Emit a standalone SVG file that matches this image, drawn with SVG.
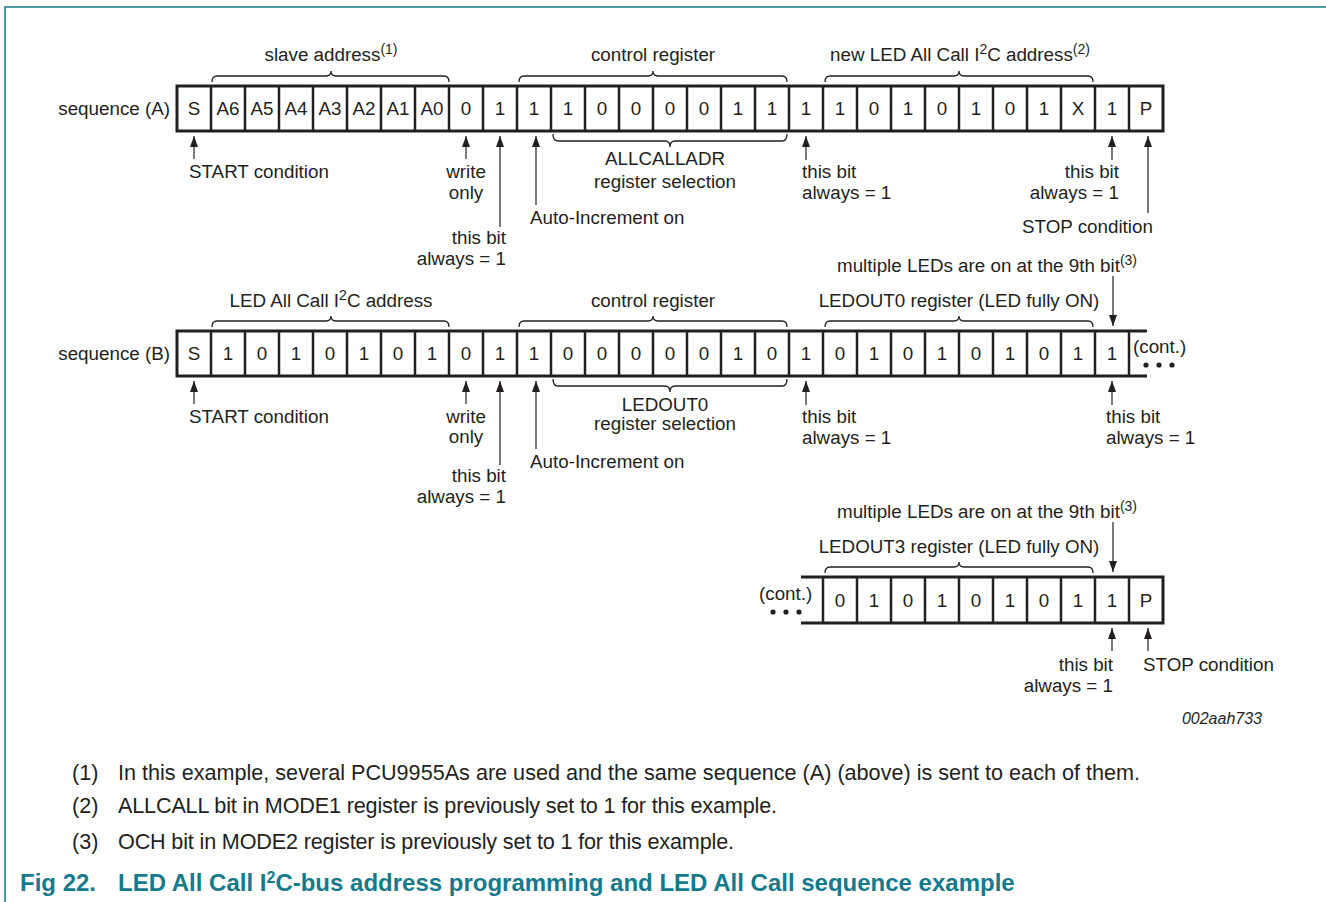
<svg xmlns="http://www.w3.org/2000/svg" width="1326" height="902" viewBox="0 0 1326 902">
<defs>
<style>
text{font-family:"Liberation Sans",Arial,sans-serif;font-size:18.8px;fill:#231f20}
.m{text-anchor:middle}
.e{text-anchor:end}
.sup{font-size:14px}
.fn{font-size:21.6px}
.title{font-size:24px;font-weight:bold;fill:#157a8c}
.id{font-size:16px;font-style:italic}
.box{fill:none;stroke:#231f20;stroke-width:3}
.div{stroke:#231f20;stroke-width:2.5}
.brace{fill:none;stroke:#231f20;stroke-width:1.3}
.arr{stroke:#231f20;stroke-width:1.2;fill:none;marker-end:url(#ah)}
.frame{stroke:#157a8c;stroke-width:1.5;fill:none}
</style>
<marker id="ah" markerUnits="userSpaceOnUse" markerWidth="11" markerHeight="8" refX="11" refY="4" orient="auto">
<path d="M0,0 L11,4 L0,8 z" fill="#231f20"/>
</marker>
</defs>
<rect width="1326" height="902" fill="#fff"/>
<path class="frame" d="M5,902 L5,7 L1326,7"/>

<g id="seqA">
<text class="e" x="170" y="114.5">sequence (A)</text>
<rect class="box" x="177" y="86" width="986" height="45"/>
<path class="div" d="M211,86V131M245,86V131M279,86V131M313,86V131M347,86V131M381,86V131M415,86V131M449,86V131M483,86V131M517,86V131M551,86V131M585,86V131M619,86V131M653,86V131M687,86V131M721,86V131M755,86V131M789,86V131M823,86V131M857,86V131M891,86V131M925,86V131M959,86V131M993,86V131M1027,86V131M1061,86V131M1095,86V131M1129,86V131"/>
<g class="m">
<text x="194" y="114.5">S</text><text x="228" y="114.5">A6</text><text x="262" y="114.5">A5</text><text x="296" y="114.5">A4</text><text x="330" y="114.5">A3</text><text x="364" y="114.5">A2</text><text x="398" y="114.5">A1</text><text x="432" y="114.5">A0</text><text x="466" y="114.5">0</text><text x="500" y="114.5">1</text><text x="534" y="114.5">1</text><text x="568" y="114.5">1</text><text x="602" y="114.5">0</text><text x="636" y="114.5">0</text><text x="670" y="114.5">0</text><text x="704" y="114.5">0</text><text x="738" y="114.5">1</text><text x="772" y="114.5">1</text><text x="806" y="114.5">1</text><text x="840" y="114.5">1</text><text x="874" y="114.5">0</text><text x="908" y="114.5">1</text><text x="942" y="114.5">0</text><text x="976" y="114.5">1</text><text x="1010" y="114.5">0</text><text x="1044" y="114.5">1</text><text x="1078" y="114.5">X</text><text x="1112" y="114.5">1</text><text x="1146" y="114.5">P</text>
</g>
<path class="brace" d="M212,82 Q212,76 217,76 L326,76 Q331,76 331,71 Q331,76 336,76 L444,76 Q449,76 449,82"/>
<path class="brace" d="M519,82 Q519,76 524,76 L648,76 Q653,76 653,71 Q653,76 658,76 L782,76 Q787,76 787,82"/>
<path class="brace" d="M825,82 Q825,76 830,76 L954,76 Q959,76 959,71 Q959,76 964,76 L1088,76 Q1093,76 1093,82"/>
<path class="brace" d="M553,134 Q553,141 558,141 L665,141 Q670,141 670,147 Q670,141 675,141 L782,141 Q787,141 787,134"/>
<text class="m" x="331" y="61">slave address<tspan class="sup" dy="-7">(1)</tspan></text>
<text class="m" x="653" y="61">control register</text>
<text class="m" x="960" y="61">new LED All Call I<tspan class="sup" dy="-7">2</tspan><tspan dy="7">C address</tspan><tspan class="sup" dy="-7">(2)</tspan></text>
<text x="189" y="177.5">START condition</text>
<text class="m" x="466" y="177.5">write</text>
<text class="m" x="466" y="198.5">only</text>
<text class="e" x="506" y="243.5">this bit</text>
<text class="e" x="506" y="264.5">always = 1</text>
<text x="530" y="223.5">Auto-Increment on</text>
<text class="m" x="665" y="164.5">ALLCALLADR</text>
<text class="m" x="665" y="187.5">register selection</text>
<text x="802" y="177.5">this bit</text>
<text x="802" y="198.5">always = 1</text>
<text class="e" x="1119" y="177.5">this bit</text>
<text class="e" x="1119" y="198.5">always = 1</text>
<text x="1022" y="232.5">STOP condition</text>
</g>

<g id="seqB">
<text class="e" x="170" y="359.5">sequence (B)</text>
<path class="box" d="M1147,331 H177 V376 H1147"/>
<path class="div" d="M211,331V376M245,331V376M279,331V376M313,331V376M347,331V376M381,331V376M415,331V376M449,331V376M483,331V376M517,331V376M551,331V376M585,331V376M619,331V376M653,331V376M687,331V376M721,331V376M755,331V376M789,331V376M823,331V376M857,331V376M891,331V376M925,331V376M959,331V376M993,331V376M1027,331V376M1061,331V376M1095,331V376M1129,331V376"/>
<g class="m">
<text x="194" y="359.5">S</text><text x="228" y="359.5">1</text><text x="262" y="359.5">0</text><text x="296" y="359.5">1</text><text x="330" y="359.5">0</text><text x="364" y="359.5">1</text><text x="398" y="359.5">0</text><text x="432" y="359.5">1</text><text x="466" y="359.5">0</text><text x="500" y="359.5">1</text><text x="534" y="359.5">1</text><text x="568" y="359.5">0</text><text x="602" y="359.5">0</text><text x="636" y="359.5">0</text><text x="670" y="359.5">0</text><text x="704" y="359.5">0</text><text x="738" y="359.5">1</text><text x="772" y="359.5">0</text><text x="806" y="359.5">1</text><text x="840" y="359.5">0</text><text x="874" y="359.5">1</text><text x="908" y="359.5">0</text><text x="942" y="359.5">1</text><text x="976" y="359.5">0</text><text x="1010" y="359.5">1</text><text x="1044" y="359.5">0</text><text x="1078" y="359.5">1</text><text x="1112" y="359.5">1</text>
</g>
<text x="1133" y="353">(cont.)</text>
<circle cx="1146" cy="365" r="2.6" fill="#231f20"/><circle cx="1159" cy="365" r="2.6" fill="#231f20"/><circle cx="1172" cy="365" r="2.6" fill="#231f20"/>
<path class="brace" d="M212,327 Q212,321 217,321 L326,321 Q331,321 331,316 Q331,321 336,321 L444,321 Q449,321 449,327"/>
<path class="brace" d="M519,327 Q519,321 524,321 L648,321 Q653,321 653,316 Q653,321 658,321 L782,321 Q787,321 787,327"/>
<path class="brace" d="M825,327 Q825,321 830,321 L954,321 Q959,321 959,316 Q959,321 964,321 L1088,321 Q1093,321 1093,327"/>
<path class="brace" d="M553,379 Q553,386 558,386 L665,386 Q670,386 670,392 Q670,386 675,386 L782,386 Q787,386 787,379"/>
<text x="837" y="271.5">multiple LEDs are on at the 9th bit<tspan class="sup" dy="-7">(3)</tspan></text>
<text class="m" x="331" y="306.5">LED All Call I<tspan class="sup" dy="-7">2</tspan><tspan dy="7">C address</tspan></text>
<text class="m" x="653" y="306.5">control register</text>
<text class="m" x="959" y="306.5">LEDOUT0 register (LED fully ON)</text>
<text x="189" y="422.5">START condition</text>
<text class="m" x="466" y="422.5">write</text>
<text class="m" x="466" y="442.5">only</text>
<text class="e" x="506" y="481.5">this bit</text>
<text class="e" x="506" y="502.5">always = 1</text>
<text x="530" y="467.5">Auto-Increment on</text>
<text class="m" x="665" y="410.5">LEDOUT0</text>
<text class="m" x="665" y="429.5">register selection</text>
<text x="802" y="422.5">this bit</text>
<text x="802" y="443.5">always = 1</text>
<text x="1106" y="422.5">this bit</text>
<text x="1106" y="443.5">always = 1</text>
</g>

<g id="seqC">
<path class="box" d="M801,577 H1163 V623 H801"/>
<path class="div" d="M823,577V623M857,577V623M891,577V623M925,577V623M959,577V623M993,577V623M1027,577V623M1061,577V623M1095,577V623M1129,577V623"/>
<g class="m">
<text x="840" y="606.5">0</text><text x="874" y="606.5">1</text><text x="908" y="606.5">0</text><text x="942" y="606.5">1</text><text x="976" y="606.5">0</text><text x="1010" y="606.5">1</text><text x="1044" y="606.5">0</text><text x="1078" y="606.5">1</text><text x="1112" y="606.5">1</text><text x="1146" y="606.5">P</text>
</g>
<text x="759" y="600">(cont.)</text>
<circle cx="773" cy="612" r="2.6" fill="#231f20"/><circle cx="786" cy="612" r="2.6" fill="#231f20"/><circle cx="799" cy="612" r="2.6" fill="#231f20"/>
<path class="brace" d="M825,573 Q825,567 830,567 L954,567 Q959,567 959,562 Q959,567 964,567 L1088,567 Q1093,567 1093,573"/>
<text x="837" y="517.5">multiple LEDs are on at the 9th bit<tspan class="sup" dy="-7">(3)</tspan></text>
<text class="m" x="959" y="552.5">LEDOUT3 register (LED fully ON)</text>
<text class="e" x="1113" y="670.5">this bit</text>
<text class="e" x="1113" y="691.5">always = 1</text>
<text x="1143" y="670.5">STOP condition</text>
<text class="e id" x="1262" y="724">002aah733</text>
</g>

<g id="connectors">
<line class="arr" x1="194" y1="159" x2="194" y2="136"/>
<line class="arr" x1="466" y1="159" x2="466" y2="136"/>
<line class="arr" x1="500" y1="227" x2="500" y2="136"/>
<line class="arr" x1="536" y1="205" x2="536" y2="136"/>
<line class="arr" x1="806" y1="160" x2="806" y2="136"/>
<line class="arr" x1="1112" y1="160" x2="1112" y2="136"/>
<line class="arr" x1="1148" y1="213" x2="1148" y2="136"/>
<line class="arr" x1="1113" y1="276" x2="1113" y2="326"/>
<line class="arr" x1="194" y1="404" x2="194" y2="381"/>
<line class="arr" x1="466" y1="404" x2="466" y2="381"/>
<line class="arr" x1="500" y1="465" x2="500" y2="381"/>
<line class="arr" x1="536" y1="449" x2="536" y2="381"/>
<line class="arr" x1="806" y1="405" x2="806" y2="381"/>
<line class="arr" x1="1112" y1="405" x2="1112" y2="381"/>
<line class="arr" x1="1113" y1="522" x2="1113" y2="572"/>
<line class="arr" x1="1112" y1="651" x2="1112" y2="628"/>
<line class="arr" x1="1148" y1="651" x2="1148" y2="628"/>
</g>

<g id="notes">
<text class="fn" x="72" y="780">(1)</text>
<text class="fn" x="118" y="780" textLength="1022" lengthAdjust="spacing">In this example, several PCU9955As are used and the same sequence (A) (above) is sent to each of them.</text>
<text class="fn" x="72" y="813">(2)</text>
<text class="fn" x="118" y="813" textLength="659" lengthAdjust="spacing">ALLCALL bit in MODE1 register is previously set to 1 for this example.</text>
<text class="fn" x="72" y="849">(3)</text>
<text class="fn" x="118" y="849" textLength="616" lengthAdjust="spacing">OCH bit in MODE2 register is previously set to 1 for this example.</text>
<text class="title" x="20" y="891">Fig 22.</text>
<text class="title" x="118" y="891">LED All Call I<tspan font-size="16" dy="-8">2</tspan><tspan dy="8">C-bus address programming and LED All Call sequence example</tspan></text>
</g>
</svg>
